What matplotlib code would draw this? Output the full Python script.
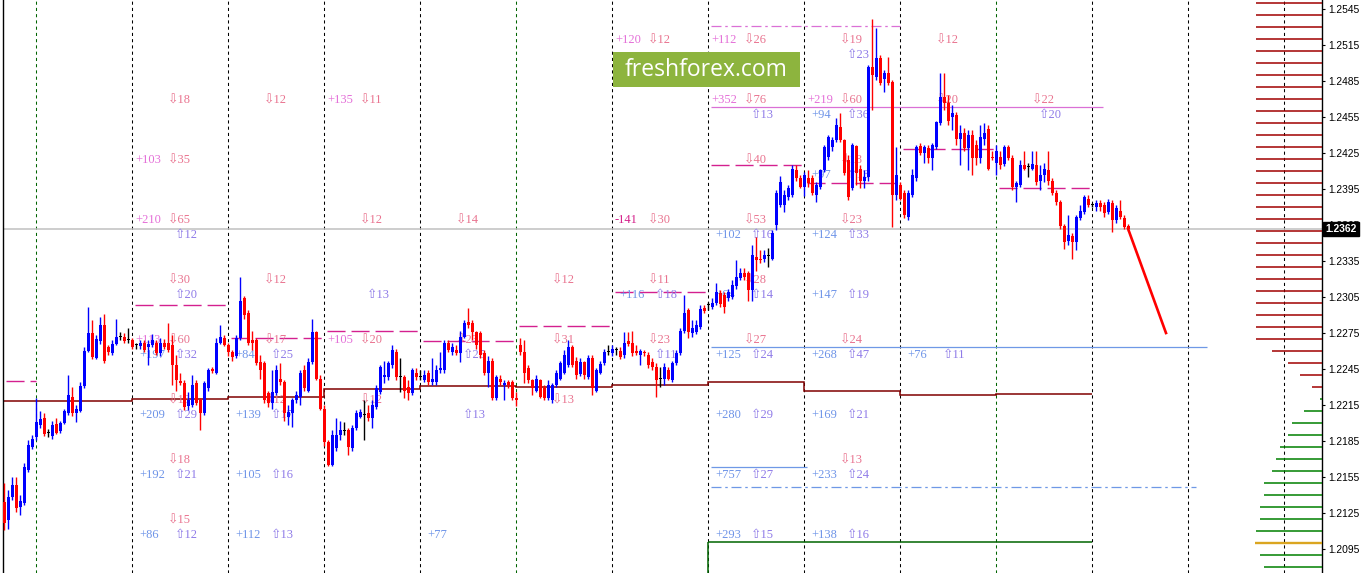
import numpy as np
import matplotlib
matplotlib.use("Agg")
import matplotlib.pyplot as plt
from matplotlib.patches import Rectangle

# H1 candles (price)
opens = [
    1.2134, 1.2119, 1.2138, 1.2148, 1.2130, 1.2133, 1.2161, 1.2180, 1.2188, 1.2198,
    1.2204, 1.2192, 1.2189, 1.2199, 1.2193, 1.2200, 1.2208, 1.2222, 1.2208, 1.2210,
    1.2231, 1.2260, 1.2275, 1.2254, 1.2268, 1.2282, 1.2263, 1.2258, 1.2266, 1.2272,
    1.2272, 1.2269, 1.2269, 1.2265, 1.2264, 1.2267, 1.2263, 1.2265, 1.2267, 1.2258,
    1.2267, 1.2267, 1.2265, 1.2248, 1.2235, 1.2233, 1.2214, 1.2215, 1.2233, 1.2219,
    1.2208, 1.2229, 1.2245, 1.2242, 1.2267, 1.2271, 1.2265, 1.2259, 1.2256, 1.2271,
    1.2304, 1.2292, 1.2269, 1.2269, 1.2251, 1.2250, 1.2225, 1.2217, 1.2225, 1.2237,
    1.2234, 1.2205, 1.2208, 1.2219, 1.2222, 1.2244, 1.2227, 1.2251, 1.2276, 1.2237,
    1.2212, 1.2184, 1.2165, 1.2179, 1.2190, 1.2193, 1.2194, 1.2179, 1.2196, 1.2205,
    1.2207, 1.2208, 1.2204, 1.2213, 1.2226, 1.2238, 1.2238, 1.2248, 1.2259, 1.2238,
    1.2238, 1.2230, 1.2225, 1.2242, 1.2238, 1.2236, 1.2242, 1.2234, 1.2234, 1.2244,
    1.2244, 1.2267, 1.2259, 1.2261, 1.2258, 1.2272, 1.2284, 1.2283, 1.2276, 1.2275,
    1.2258, 1.2242, 1.2252, 1.2221, 1.2237, 1.2232, 1.2234, 1.2234, 1.2221, 1.2265,
    1.2259, 1.2246, 1.2236, 1.2227, 1.2236, 1.2229, 1.2221, 1.2219, 1.2232, 1.2237,
    1.2242, 1.2248, 1.2263, 1.2252, 1.2241, 1.2251, 1.2238, 1.2254, 1.2227, 1.2242,
    1.2250, 1.2259, 1.2258, 1.2261, 1.2260, 1.2257, 1.2268, 1.2267, 1.2260, 1.2257,
    1.2259, 1.2257, 1.2251, 1.2247, 1.2237, 1.2237, 1.2244, 1.2236, 1.2250, 1.2258,
    1.2277, 1.2294, 1.2275, 1.2276, 1.2280, 1.2296, 1.2298, 1.2297, 1.2300, 1.2308,
    1.2307, 1.2304, 1.2305, 1.2314, 1.2321, 1.2325, 1.2325, 1.2311, 1.2338, 1.2337,
    1.2337, 1.2339, 1.2337, 1.2365, 1.2382, 1.2382, 1.2388, 1.2390, 1.2411, 1.2404,
    1.2397, 1.2404, 1.2404, 1.2390, 1.2397, 1.2411, 1.2422, 1.2430, 1.2436, 1.2447,
    1.2436, 1.2419, 1.2396, 1.2431, 1.2412, 1.2402, 1.2405, 1.2497, 1.2488, 1.2504,
    1.2487, 1.2492, 1.2484, 1.2390, 1.2398, 1.2392, 1.2372, 1.2390, 1.2404, 1.2431,
    1.2425, 1.2429, 1.2421, 1.2430, 1.2450, 1.2472, 1.2467, 1.2455, 1.2457, 1.2437,
    1.2442, 1.2429, 1.2440, 1.2432, 1.2421, 1.2437, 1.2445, 1.2422, 1.2417, 1.2422,
    1.2416, 1.2430, 1.2421, 1.2397, 1.2398, 1.2415, 1.2413, 1.2412, 1.2415, 1.2402,
    1.2407, 1.2411, 1.2402, 1.2392, 1.2384, 1.2364, 1.2352, 1.2356, 1.2351, 1.2371,
    1.2376, 1.2387, 1.2382, 1.2380, 1.2383, 1.2382, 1.2376, 1.2383, 1.2369, 1.2377,
    1.2371, 1.2364,
]
closes = [
    1.2117, 1.2138, 1.2148, 1.2129, 1.2135, 1.2163, 1.2182, 1.2187, 1.2201, 1.2203,
    1.2191, 1.2192, 1.2198, 1.2192, 1.2200, 1.2210, 1.2223, 1.2208, 1.2212, 1.2231,
    1.2260, 1.2275, 1.2255, 1.2270, 1.2282, 1.2252, 1.2259, 1.2266, 1.2272, 1.2272,
    1.2268, 1.2269, 1.2263, 1.2265, 1.2267, 1.2261, 1.2266, 1.2269, 1.2258, 1.2267,
    1.2263, 1.2261, 1.2248, 1.2236, 1.2233, 1.2213, 1.2219, 1.2232, 1.2217, 1.2208,
    1.2233, 1.2244, 1.2243, 1.2267, 1.2272, 1.2265, 1.2259, 1.2255, 1.2271, 1.2302,
    1.2290, 1.2267, 1.2267, 1.2250, 1.2244, 1.2219, 1.2217, 1.2226, 1.2244, 1.2234,
    1.2208, 1.2209, 1.2219, 1.2223, 1.2242, 1.2229, 1.2251, 1.2276, 1.2237, 1.2212,
    1.2184, 1.2165, 1.2190, 1.2190, 1.2194, 1.2193, 1.2180, 1.2196, 1.2208, 1.2209,
    1.2207, 1.2204, 1.2215, 1.2229, 1.2247, 1.2240, 1.2250, 1.2261, 1.2238, 1.2238,
    1.2227, 1.2225, 1.2244, 1.2238, 1.2238, 1.2240, 1.2234, 1.2237, 1.2244, 1.2246,
    1.2267, 1.2261, 1.2263, 1.2258, 1.2272, 1.2283, 1.2282, 1.2276, 1.2265, 1.2257,
    1.2242, 1.2252, 1.2221, 1.2238, 1.2234, 1.2233, 1.2232, 1.2221, 1.2219, 1.2259,
    1.2242, 1.2236, 1.2229, 1.2237, 1.2222, 1.2221, 1.2232, 1.2232, 1.2242, 1.2250,
    1.2257, 1.2263, 1.2248, 1.2240, 1.2251, 1.2240, 1.2254, 1.2229, 1.2244, 1.2249,
    1.2259, 1.2259, 1.2262, 1.2261, 1.2255, 1.2267, 1.2266, 1.2258, 1.2258, 1.2260,
    1.2258, 1.2248, 1.2247, 1.2236, 1.2237, 1.2247, 1.2237, 1.2250, 1.2258, 1.2277,
    1.2292, 1.2276, 1.2279, 1.2282, 1.2295, 1.2293, 1.2298, 1.2300, 1.2309, 1.2299,
    1.2297, 1.2309, 1.2315, 1.2322, 1.2325, 1.2322, 1.2311, 1.2340, 1.2336, 1.2336,
    1.2340, 1.2339, 1.2358, 1.2392, 1.2401, 1.2390, 1.2396, 1.2412, 1.2404, 1.2397,
    1.2407, 1.2400, 1.2392, 1.2398, 1.2411, 1.2430, 1.2438, 1.2436, 1.2448, 1.2436,
    1.2408, 1.2388, 1.2432, 1.2408, 1.2402, 1.2405, 1.2497, 1.2490, 1.2504, 1.2483,
    1.2492, 1.2483, 1.2390, 1.2407, 1.2387, 1.2373, 1.2392, 1.2407, 1.2430, 1.2425,
    1.2430, 1.2421, 1.2432, 1.2451, 1.2472, 1.2467, 1.2452, 1.2458, 1.2437, 1.2442,
    1.2429, 1.2440, 1.2421, 1.2421, 1.2438, 1.2442, 1.2412, 1.2421, 1.2427, 1.2415,
    1.2430, 1.2421, 1.2397, 1.2400, 1.2415, 1.2412, 1.2413, 1.2416, 1.2401, 1.2407,
    1.2412, 1.2402, 1.2392, 1.2384, 1.2364, 1.2351, 1.2357, 1.2351, 1.2372, 1.2377,
    1.2388, 1.2382, 1.2382, 1.2383, 1.2380, 1.2375, 1.2384, 1.2369, 1.2379, 1.2372,
    1.2363, 1.2362,
]
highs = [
    1.2150, 1.2144, 1.2155, 1.2155, 1.2140, 1.2167, 1.2186, 1.2190, 1.2221, 1.2210,
    1.2208, 1.2195, 1.2202, 1.2204, 1.2202, 1.2212, 1.2240, 1.2230, 1.2215, 1.2234,
    1.2263, 1.2297, 1.2286, 1.2273, 1.2288, 1.2291, 1.2265, 1.2269, 1.2287, 1.2276,
    1.2275, 1.2279, 1.2271, 1.2267, 1.2269, 1.2269, 1.2269, 1.2274, 1.2269, 1.2271,
    1.2270, 1.2283, 1.2273, 1.2257, 1.2242, 1.2236, 1.2226, 1.2240, 1.2236, 1.2221,
    1.2235, 1.2246, 1.2247, 1.2271, 1.2282, 1.2273, 1.2267, 1.2261, 1.2273, 1.2322,
    1.2306, 1.2294, 1.2277, 1.2271, 1.2257, 1.2252, 1.2227, 1.2244, 1.2248, 1.2250,
    1.2236, 1.2215, 1.2221, 1.2227, 1.2244, 1.2248, 1.2254, 1.2287, 1.2277, 1.2240,
    1.2215, 1.2186, 1.2194, 1.2204, 1.2202, 1.2201, 1.2196, 1.2198, 1.2211, 1.2212,
    1.2219, 1.2215, 1.2219, 1.2232, 1.2248, 1.2252, 1.2252, 1.2265, 1.2262, 1.2254,
    1.2240, 1.2236, 1.2246, 1.2246, 1.2244, 1.2244, 1.2244, 1.2254, 1.2248, 1.2259,
    1.2269, 1.2269, 1.2267, 1.2265, 1.2277, 1.2286, 1.2296, 1.2286, 1.2277, 1.2277,
    1.2261, 1.2256, 1.2254, 1.2240, 1.2240, 1.2236, 1.2236, 1.2236, 1.2226, 1.2271,
    1.2269, 1.2248, 1.2237, 1.2240, 1.2237, 1.2232, 1.2236, 1.2233, 1.2244, 1.2252,
    1.2261, 1.2269, 1.2265, 1.2255, 1.2254, 1.2252, 1.2257, 1.2257, 1.2246, 1.2252,
    1.2262, 1.2265, 1.2265, 1.2263, 1.2263, 1.2276, 1.2276, 1.2277, 1.2265, 1.2262,
    1.2261, 1.2259, 1.2254, 1.2250, 1.2247, 1.2250, 1.2247, 1.2252, 1.2261, 1.2279,
    1.2307, 1.2296, 1.2286, 1.2286, 1.2298, 1.2298, 1.2301, 1.2304, 1.2317, 1.2311,
    1.2309, 1.2312, 1.2319, 1.2336, 1.2329, 1.2329, 1.2327, 1.2348, 1.2355, 1.2344,
    1.2344, 1.2346, 1.2361, 1.2394, 1.2406, 1.2394, 1.2398, 1.2415, 1.2415, 1.2407,
    1.2409, 1.2411, 1.2407, 1.2401, 1.2412, 1.2432, 1.2440, 1.2438, 1.2454, 1.2458,
    1.2437, 1.2423, 1.2433, 1.2432, 1.2415, 1.2411, 1.2498, 1.2537, 1.2529, 1.2507,
    1.2494, 1.2505, 1.2486, 1.2430, 1.2401, 1.2394, 1.2394, 1.2412, 1.2432, 1.2433,
    1.2432, 1.2432, 1.2433, 1.2452, 1.2492, 1.2492, 1.2473, 1.2465, 1.2459, 1.2448,
    1.2446, 1.2444, 1.2444, 1.2436, 1.2448, 1.2450, 1.2448, 1.2427, 1.2432, 1.2427,
    1.2432, 1.2432, 1.2423, 1.2402, 1.2419, 1.2427, 1.2417, 1.2427, 1.2427, 1.2415,
    1.2417, 1.2427, 1.2404, 1.2394, 1.2386, 1.2366, 1.2373, 1.2358, 1.2373, 1.2382,
    1.2390, 1.2390, 1.2383, 1.2386, 1.2386, 1.2384, 1.2387, 1.2386, 1.2382, 1.2386,
    1.2373, 1.2366,
]
lows = [
    1.2111, 1.2112, 1.2136, 1.2126, 1.2123, 1.2132, 1.2159, 1.2178, 1.2186, 1.2196,
    1.2189, 1.2188, 1.2187, 1.2191, 1.2192, 1.2199, 1.2207, 1.2206, 1.2201, 1.2209,
    1.2229, 1.2259, 1.2253, 1.2253, 1.2266, 1.2250, 1.2257, 1.2257, 1.2265, 1.2269,
    1.2267, 1.2267, 1.2262, 1.2262, 1.2262, 1.2259, 1.2248, 1.2263, 1.2257, 1.2256,
    1.2262, 1.2259, 1.2232, 1.2227, 1.2232, 1.2211, 1.2211, 1.2213, 1.2215, 1.2194,
    1.2207, 1.2227, 1.2242, 1.2241, 1.2266, 1.2264, 1.2256, 1.2252, 1.2254, 1.2269,
    1.2287, 1.2265, 1.2261, 1.2248, 1.2237, 1.2217, 1.2213, 1.2212, 1.2223, 1.2232,
    1.2202, 1.2198, 1.2197, 1.2217, 1.2215, 1.2227, 1.2226, 1.2249, 1.2236, 1.2211,
    1.2181, 1.2164, 1.2164, 1.2177, 1.2186, 1.2190, 1.2173, 1.2177, 1.2194, 1.2204,
    1.2186, 1.2202, 1.2196, 1.2212, 1.2224, 1.2233, 1.2236, 1.2246, 1.2236, 1.2226,
    1.2221, 1.2219, 1.2223, 1.2236, 1.2236, 1.2234, 1.2232, 1.2232, 1.2232, 1.2242,
    1.2242, 1.2259, 1.2257, 1.2257, 1.2251, 1.2271, 1.2279, 1.2269, 1.2262, 1.2254,
    1.2240, 1.2230, 1.2219, 1.2219, 1.2232, 1.2219, 1.2229, 1.2219, 1.2214, 1.2257,
    1.2233, 1.2233, 1.2223, 1.2226, 1.2221, 1.2219, 1.2219, 1.2217, 1.2230, 1.2236,
    1.2241, 1.2247, 1.2247, 1.2237, 1.2239, 1.2237, 1.2237, 1.2223, 1.2226, 1.2241,
    1.2248, 1.2257, 1.2256, 1.2257, 1.2253, 1.2254, 1.2264, 1.2256, 1.2257, 1.2248,
    1.2256, 1.2246, 1.2244, 1.2222, 1.2230, 1.2232, 1.2236, 1.2234, 1.2248, 1.2257,
    1.2275, 1.2271, 1.2272, 1.2274, 1.2278, 1.2292, 1.2294, 1.2295, 1.2298, 1.2297,
    1.2292, 1.2302, 1.2303, 1.2312, 1.2319, 1.2319, 1.2302, 1.2302, 1.2327, 1.2333,
    1.2334, 1.2330, 1.2336, 1.2361, 1.2380, 1.2376, 1.2386, 1.2388, 1.2402, 1.2396,
    1.2389, 1.2397, 1.2390, 1.2384, 1.2395, 1.2409, 1.2419, 1.2427, 1.2434, 1.2434,
    1.2407, 1.2386, 1.2394, 1.2398, 1.2396, 1.2396, 1.2402, 1.2461, 1.2486, 1.2482,
    1.2476, 1.2482, 1.2363, 1.2386, 1.2386, 1.2371, 1.2369, 1.2388, 1.2402, 1.2423,
    1.2417, 1.2417, 1.2411, 1.2428, 1.2448, 1.2461, 1.2448, 1.2444, 1.2432, 1.2415,
    1.2427, 1.2411, 1.2407, 1.2415, 1.2417, 1.2432, 1.2411, 1.2419, 1.2407, 1.2412,
    1.2414, 1.2419, 1.2394, 1.2384, 1.2397, 1.2411, 1.2405, 1.2411, 1.2398, 1.2394,
    1.2401, 1.2398, 1.2390, 1.2382, 1.2362, 1.2345, 1.2348, 1.2337, 1.2344, 1.2369,
    1.2374, 1.2380, 1.2380, 1.2377, 1.2377, 1.2372, 1.2374, 1.2359, 1.2367, 1.2370,
    1.2362, 1.2360,
]

current_price = 1.2362
price_ticks = [1.2545, 1.2515, 1.2485, 1.2455, 1.2425, 1.2395, 1.2365, 1.2335,
               1.2305, 1.2275, 1.2245, 1.2215, 1.2185, 1.2155, 1.2125, 1.2095]

# daily open (maroon steps) and daily dashed level, per day column
day_edges = [-0.25, 32, 56, 80, 104, 128, 152, 176, 200, 224, 248, 272]
day_open = [1.2218, 1.2220, 1.2222, 1.2228, 1.2231, 1.2230, 1.2232, 1.2234, 1.2227, 1.2223, 1.2224]
dash_start = [-0.25, 32, 56, 80, 104, 128, 152, 176, 200, 224, 248]
dash_end = [8, 56, 80, 104, 128, 152, 176, 200, 224, 248, 272]
dash_level = [1.2235, 1.2298, 1.2271, 1.2277, 1.2268, 1.2281, 1.2309, 1.2415, 1.2400, 1.2428, 1.2396]

# level lines: price, from bar, to bar, colour, style
level_lines = [
    (1.2531, 176.75, 224.0, '#da70d6', 'dashdot'),
    (1.2463, 176.75, 274.75, '#da70d6', 'solid'),
    (1.2263, 176.75, 300.75, '#6f98e6', 'solid'),
    (1.2163, 176.75, 200.75, '#6f98e6', 'solid'),
    (1.2147, 176.75, 298.0, '#6f98e6', 'dashdot'),
]
support_price = 1.2101
support_bars = [176, 272]

# forecast arrow
forecast_bars = [281, 290.5]
forecast_prices = [1.2362, 1.2275]

# right-hand volume profile
profile_prices = [1.2550, 1.2540, 1.2530, 1.2520, 1.2510, 1.2500, 1.2490, 1.2480,
                  1.2470, 1.2460, 1.2450, 1.2440, 1.2430, 1.2420, 1.2410, 1.2400,
                  1.2390, 1.2380, 1.2370, 1.2360, 1.2350, 1.2340, 1.2330, 1.2320,
                  1.2310, 1.2300, 1.2290, 1.2280, 1.2270, 1.2260, 1.2250, 1.2240,
                  1.2230, 1.2220, 1.2210, 1.2200, 1.2190, 1.2180, 1.2170, 1.2160,
                  1.2150, 1.2140, 1.2130, 1.2120, 1.2110, 1.2100, 1.2090, 1.2080]
profile_volume = [66] * 29 + [50, 34, 22, 10, 2, 18, 30, 34, 42, 46, 50, 58, 58,
                              62, 62, 66, 67, 62, 58]
profile_split = 1.2225
poc_price = 1.2100

# level labels: day column, price level, number, count
levels = [1.2513, 1.2463, 1.2413, 1.2363, 1.2313, 1.2263, 1.2213, 1.2163, 1.2113]
sell_labels = [
    (1, 1, '', 18), (1, 2, '+103', 35), (1, 3, '+210', 65), (1, 4, '', 30),
    (1, 5, '+113', 60), (1, 6, '', 13), (1, 7, '', 18), (1, 8, '', 15),
    (2, 1, '', 12), (2, 4, '', 12), (2, 5, '', 17), (2, 6, '', 12),
    (3, 1, '+135', 11), (3, 3, '', 12), (3, 5, '+105', 20), (3, 6, '', 12),
    (4, 3, '', 14), (4, 5, '', 23),
    (5, 4, '', 12), (5, 5, '', 31), (5, 6, '', 13),
    (6, 0, '+120', 12), (6, 3, '-141', 30), (6, 4, '', 11), (6, 5, '', 23),
    (7, 0, '+112', 26), (7, 1, '+352', 76), (7, 2, '', 40), (7, 3, '', 53),
    (7, 4, '', 28), (7, 5, '', 27),
    (8, 0, '', 19), (8, 1, '+219', 60), (8, 2, '', 18), (8, 3, '', 23),
    (8, 5, '', 24), (8, 7, '', 13),
    (9, 0, '', 12), (9, 1, '', 20),
    (10, 1, '', 22),
]
buy_labels = [
    (1, 3, '', 12), (1, 4, '', 20), (1, 5, '+197', 32), (1, 6, '+209', 29),
    (1, 7, '+192', 21), (1, 8, '+86', 12),
    (2, 5, '+84', 25), (2, 6, '+139', 17), (2, 7, '+105', 16), (2, 8, '+112', 13),
    (3, 4, '', 13),
    (4, 5, '', 25), (4, 6, '', 13), (4, 8, '+77', None),
    (6, 4, '+116', 18), (6, 5, '', 11),
    (7, 1, '', 13), (7, 3, '+102', 16), (7, 4, '+64', 14), (7, 5, '+125', 24),
    (7, 6, '+280', 29), (7, 7, '+757', 27), (7, 8, '+293', 15),
    (8, 0, '', 23), (8, 1, '+94', 36), (8, 2, '+97', 13), (8, 3, '+124', 33),
    (8, 4, '+147', 19), (8, 5, '+268', 47), (8, 6, '+169', 21), (8, 7, '+233', 24),
    (8, 8, '+138', 16),
    (9, 5, '+76', 11),
    (10, 1, '', 20),
]

W, H = 1364, 573
PT = 0.72  # points per pixel at 100 dpi
fig = plt.figure(figsize=(W / 100, H / 100), dpi=100)
ax = fig.add_axes([3 / W, 0, 1319 / W, 1])
ax.set_xlim(-0.25, 329.5)
ax.set_ylim(1.2075, 1.25525)
for s in ['top', 'bottom']:
    ax.spines[s].set_visible(False)
for s in ['left', 'right']:
    ax.spines[s].set_linewidth(1.0)

# day separators
for xi in range(8, 330, 24):
    col = '#006400' if (xi - 8) % 120 == 0 else 'black'
    ax.axvline(xi, color=col, lw=0.75, ls=(0, (3, 3)), zorder=1)

ax.axhline(current_price, color='#c0c0c0', lw=1.1, zorder=1.5)

ax.stairs(day_open, day_edges, baseline=None, color='#800000', lw=1.1, zorder=2)
for a, b, p in zip(dash_start, dash_end, dash_level):
    ax.hlines(p, a + 0.75, b, color='#d4208f', lw=1.0, ls=(0, (13, 4.3)), zorder=2)

for p, a, b, col, st in level_lines:
    ls = (0, (8, 3, 2, 3)) if st == 'dashdot' else '-'
    ax.hlines(p, a, b, color=col, lw=0.9, ls=ls, zorder=2)
ax.hlines(support_price, support_bars[0], support_bars[1], color='#006400', lw=1.1, zorder=2)
ax.vlines(support_bars[0], 1.2075, support_price, color='#006400', lw=1.1, zorder=2)

# labels: sell rows sit just above a level, buy rows just below it
lab_font = ['Liberation Serif', 'DejaVu Sans']
for d, lv, num, cnt in sell_labels:
    xd, yd = 8 + 24 * d, levels[lv]
    if num:
        col = '#d4208a' if num.startswith('-') else '#e46fd8'
        ax.annotate(num, (xd, yd), xytext=(3 * PT, 7 * PT), textcoords='offset points',
                    color=col, fontsize=9, family=lab_font, va='center', zorder=2.5)
    ax.annotate(f'\u21e9{cnt}', (xd, yd), xytext=(36 * PT, 7 * PT), textcoords='offset points',
                color='#e9738f', fontsize=9, family=lab_font, va='center', zorder=2.5)
for d, lv, num, cnt in buy_labels:
    xd, yd = 8 + 24 * d, levels[lv]
    if num:
        ax.annotate(num, (xd, yd), xytext=(7 * PT, -8 * PT), textcoords='offset points',
                    color='#6e94e8', fontsize=9, family=lab_font, va='center', zorder=2.5)
    if cnt is not None:
        ax.annotate(f'\u21e7{cnt}', (xd, yd), xytext=(43 * PT, -8 * PT), textcoords='offset points',
                    color='#8f7be8', fontsize=9, family=lab_font, va='center', zorder=2.5)

# candles
o = np.array(opens); c = np.array(closes)
h = np.array(highs); l = np.array(lows)
x = np.arange(len(c))
cols = np.where(c > o, '#0000ff', np.where(c < o, '#ff0000', '#000000'))
ax.vlines(x, l, h, colors=cols, lw=1.0, zorder=4)
ax.bar(x, np.maximum(np.abs(c - o), 0.00009), bottom=np.minimum(o, c), width=0.75,
       color=cols, lw=0, zorder=4)

ax.plot(forecast_bars, forecast_prices, color='#ff0000', lw=1.9, zorder=5)

# volume profile at the right edge
for p, v in zip(profile_prices, profile_volume):
    if p == poc_price:
        ax.hlines(p, 329.5 - v / 4, 329.5, color='#daa520', lw=1.7, zorder=3)
    else:
        col = '#a00000' if p > profile_split else '#008000'
        ax.hlines(p, 329.5 - v / 4, 329.5, color=col, lw=1.1, zorder=3)

# watermark
ax.add_patch(Rectangle((152.25, 1.2480), 46.75, 0.0029, fc='#8db43e', ec='none', zorder=6))
ax.text(175.6, 1.24945, 'freshforex.com', color='white', fontsize=16.5, family='Open Sans',
        ha='center', va='center', zorder=7)

# price axis
ax.set_xticks([])
ax.yaxis.tick_right()
ax.set_yticks(price_ticks)
ax.set_yticklabels([f'{p:.4f}' for p in price_ticks])
ax.tick_params(axis='y', length=3 * PT, width=0.8, pad=2, labelsize=7.4)
for t in ax.get_yticklabels():
    t.set_fontfamily('Liberation Sans')
ax.annotate(f'{current_price:.4f}', (1, current_price), xycoords=('axes fraction', 'data'),
            xytext=(2.5, 0), textcoords='offset points', color='white', fontsize=7.4,
            family='Liberation Sans', weight='bold', va='center', ha='left',
            bbox=dict(boxstyle='square,pad=0.2', fc='black', ec='black'),
            annotation_clip=False, zorder=8)

fig.savefig('out.png', dpi=100, facecolor='white')
